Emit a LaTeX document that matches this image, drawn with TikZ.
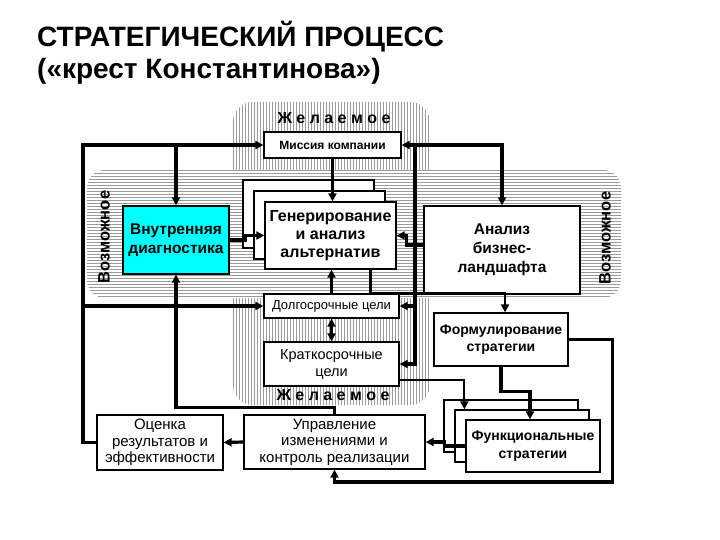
\documentclass[tikz,border=0pt]{standalone}
\usepackage{fontspec}
\setmainfont{Liberation Sans}
\usetikzlibrary{arrows.meta}
\definecolor{cyanbox}{HTML}{00FFFF}
\definecolor{hatchc}{HTML}{9A9A9A}
\begin{document}
\begin{tikzpicture}[x=1pt,y=-1pt,
  box/.style={draw, line width=1.3pt, fill=white, inner sep=0pt, align=center},
  ln/.style={line width=3.2pt},
  lnmid/.style={line width=2.6pt},
  lnthin/.style={line width=2.2pt},
  tri/.tip={Triangle[length=8pt,width=8pt]},
  hatch/.style={draw=hatchc, line width=1pt},
  fbig/.style={font=\fontsize{15.5}{18.5}\selectfont\bfseries},
  fmid/.style={font=\fontsize{14}{17}\selectfont\bfseries},
  freg/.style={font=\fontsize{15}{16.5}\selectfont},
  flabel/.style={font=\fontsize{16}{18}\selectfont\bfseries}]
\useasboundingbox (0,0) rectangle (720,540);
% title
\node[anchor=base west, inner sep=0pt, font=\fontsize{28}{32}\selectfont\bfseries] (t1) at (37,47) {СТРАТЕГИЧЕСКИЙ ПРОЦЕСС};
\node[anchor=base west, inner sep=0pt, font=\fontsize{28}{32}\selectfont\bfseries] (t2) at (37,79) {(«крест Константинова»)};
% vertical band
\begin{scope}
\clip[rounded corners=20pt] (233,102) rectangle (430,405);
\foreach \x in {233.5,236.5,...,431} \draw[hatch] (\x,100) -- (\x,410);
\end{scope}
% horizontal band
\fill[white, rounded corners=18pt] (87,170) rectangle (621,298);
\begin{scope}
\clip[rounded corners=18pt] (87,170) rectangle (621,298);
\foreach \y in {170.5,173.5,...,299} \draw[hatch] (80,\y) -- (630,\y);
\end{scope}
% band labels
\node[flabel] (des1) at (334,118) {Ж е л а е м о е};
\node[flabel] (des2) at (333,395) {Ж е л а е м о е};
\node[flabel, font=\fontsize{16.5}{18}\selectfont\bfseries, rotate=90] (pos1) at (104,237) {Возможное};
\node[flabel, font=\fontsize{16.5}{18}\selectfont\bfseries, rotate=90] (pos2) at (605,238) {Возможное};
% boxes
\node[box, minimum width=137pt, minimum height=26pt, font=\fontsize{12}{14}\selectfont\bfseries] (mis) at (332.5,145) {Миссия компании};
\node[box, fill=cyanbox, minimum width=106pt, minimum height=68pt, fbig] (vnu) at (176,240) {Внутренняя\\диагностика};
\node[box, minimum width=131pt, minimum height=68pt] (gen3) at (308.5,214) {};
\node[box, minimum width=131pt, minimum height=68pt] (gen2) at (319.5,225) {};
\node[box, minimum width=131pt, minimum height=67pt, font=\fontsize{16}{18}\selectfont\bfseries] (gen) at (330.5,235.5) {Генерирование\\и анализ\\альтернатив};
\node[box, minimum width=156pt, minimum height=88pt, font=\fontsize{15.5}{19}\selectfont\bfseries] (ana) at (502,250) {Анализ\\бизнес-\\ландшафта};
\node[box, minimum width=135pt, minimum height=24pt, font=\fontsize{13}{15}\selectfont] (dol) at (331.5,306) {Долгосрочные цели};
\node[box, minimum width=135pt, minimum height=44pt, font=\fontsize{14.5}{17}\selectfont] (kra) at (331.5,364) {Краткосрочные\\цели};
\node[box, minimum width=134pt, minimum height=53pt, fmid] (form) at (501,339.5) {Формулирование\\стратегии};
\node[box, minimum width=134pt, minimum height=52pt] (fun3) at (511,426) {};
\node[box, minimum width=134pt, minimum height=52pt] (fun2) at (522,436) {};
\node[box, minimum width=134pt, minimum height=52pt, font=\fontsize{14}{18}\selectfont\bfseries] (fun) at (533,446) {Функциональные\\стратегии};
\node[box, minimum width=181pt, minimum height=54pt, freg] (upr) at (334.5,442) {Управление\\изменениями и\\контроль реализации};
\node[box, minimum width=126pt, minimum height=55pt, freg] (oce) at (160,442.5) {Оценка\\результатов и\\эффективности};
% connectors
\coordinate (L) at (83,0);
\coordinate (B) at (415,145);
\draw[ln,-tri] (oce.west) -| (L |- mis.west) -- (mis.west);
\draw[ln,-tri] (vnu.north |- mis.west) -- (vnu.north);
\draw[ln,-tri] (L |- dol.west) -- (dol.west);
\draw[ln,-tri] (upr.north) -- ++(0,-7) -| (vnu.south);
\draw[ln,-tri] (mis.south) -- (mis.south |- gen.north);
\draw[ln,tri-tri] (mis.east) -- (B) -| (ana.north);
\draw[ln,-tri] (B) |- (kra.east);
\draw[ln,-tri] (B |- dol.east) -- (dol.east);
\draw[ln,-tri] ([yshift=5pt]ana.west) -- ++(-17,0) |- (gen.east);
\draw[ln,-tri] (vnu.east) -- ++(16,0) |- (gen.west);
\draw[ln,-tri] (dol.north) -- (dol.north |- gen.south);
\draw[lnmid,-tri] ([xshift=40pt]gen.south) -- ++(0,24) -| ([xshift=4pt]form.north);
\draw[ln,tri-tri] (dol.south) -- (kra.north);
\draw[lnthin,-tri] ([yshift=-16pt]kra.east) -| ([xshift=10pt]fun2.north west);
\draw[ln,-tri] (form.south) -- ++(0,25) -| ([xshift=-3pt]fun.north);
\draw[ln,-tri] (form.east) -- ++(44,0) -- ++(0,142.5) -| (upr.south);
\draw[ln,-tri] (fun.west) -- ++(-21,0) |- (upr.east);
\draw[ln,-tri] (upr.west) -- (oce.east);
\end{tikzpicture}
\end{document}
